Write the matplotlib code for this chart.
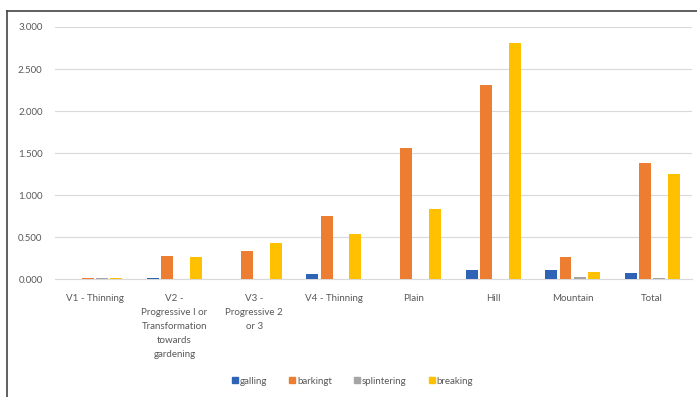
import numpy as np
import matplotlib.pyplot as plt
from matplotlib.lines import Line2D

categories = ["V1 - Thinning",
              "V2 -\nProgressive I or\nTransformation\ntowards\ngardening",
              "V3 -\nProgressive 2\nor 3",
              "V4 - Thinning", "Plain", "Hill", "Mountain", "Total"]
series_names = ["galling", "barkingt", "splintering", "breaking"]
galling = [0.0, 0.01, 0.0, 0.06, 0.0, 0.11, 0.11, 0.07]
barking = [0.01, 0.27, 0.33, 0.75, 1.56, 2.31, 0.26, 1.38]
splintering = [0.01, 0.0, 0.0, 0.0, 0.0, 0.0, 0.03, 0.01]
breaking = [0.01, 0.26, 0.43, 0.54, 0.83, 2.81, 0.09, 1.25]
yticks = [0.0, 0.5, 1.0, 1.5, 2.0, 2.5, 3.0]

colors = ["#2E63B5", "#ED7D31", "#A5A5A5", "#FFC000"]
text_color = "#595959"
plt.rcParams['font.family'] = ['Lato', 'DejaVu Sans']

fig = plt.figure(figsize=(6.97, 3.97), dpi=100)
ax = fig.add_axes([0.079, 0.297, 0.914, 0.635])

x = np.arange(len(categories))
step = 0.18
width = 0.15
all_series = [galling, barking, splintering, breaking]
for i, (vals, name) in enumerate(zip(all_series, series_names)):
    ax.bar(x + (i - 1.5) * step, vals, width, color=colors[i], label=name, zorder=3)

ax.set_xlim(-0.5, len(categories) - 0.5)
ax.set_ylim(0, 3.0)
ax.set_yticks(yticks)
ax.set_yticklabels([f"{v:.3f}" for v in yticks], fontsize=7, color=text_color)
ax.set_xticks(x)
ax.set_xticklabels(categories, fontsize=7, color=text_color, linespacing=1.7, va="top")
ax.tick_params(axis="both", length=0, pad=9)
ax.tick_params(axis="x", pad=11)
ax.grid(axis="y", color="#D9D9D9", linewidth=0.8, zorder=0)
for s in ["top", "right", "left"]:
    ax.spines[s].set_visible(False)
ax.spines["bottom"].set_color("#D9D9D9")
ax.spines["bottom"].set_linewidth(0.8)

handles = [Line2D([], [], marker="s", linestyle="", markersize=4, color=c) for c in colors]
fig.legend(handles, series_names, loc="center", bbox_to_anchor=(0.505, 0.04), ncol=4,
           frameon=False, fontsize=7, labelcolor=text_color, handletextpad=0.1,
           columnspacing=2.2, handlelength=0.8)

# frame lines of the original picture (top and left)
fig.add_artist(Line2D([7 / 697, 1.0], [1 - 11 / 397, 1 - 11 / 397], transform=fig.transFigure,
                      color="#444444", linewidth=1.2))
fig.add_artist(Line2D([7 / 697, 7 / 697], [0, 1 - 11 / 397], transform=fig.transFigure,
                      color="#444444", linewidth=1.2))

fig.savefig("out.png", dpi=100)
